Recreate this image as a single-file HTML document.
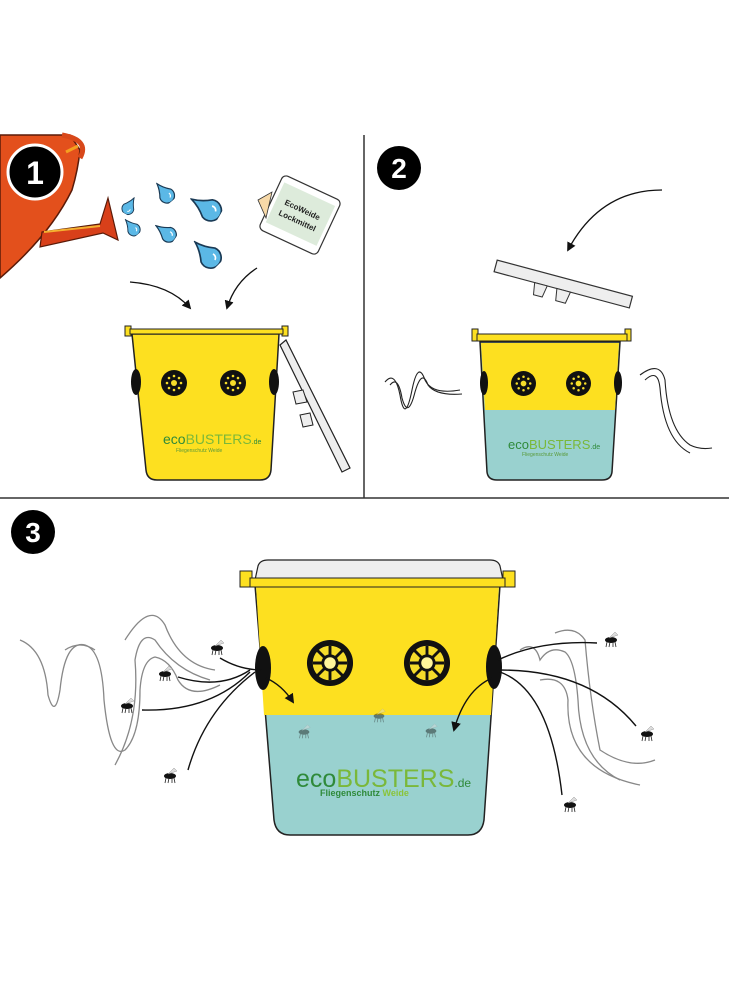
<!DOCTYPE html>
<html><head><meta charset="utf-8"><style>
html,body{margin:0;padding:0;background:#fff}
svg{display:block}
text{font-family:"Liberation Sans",sans-serif}
</style></head><body>
<svg width="729" height="1000" viewBox="0 0 729 1000" xmlns="http://www.w3.org/2000/svg">
<defs>
<symbol id="fly" viewBox="-10 -10 20 20">
<ellipse cx="0" cy="0" rx="6" ry="3" fill="#111"/>
<path d="M-2 -2 L4 -8 L7 -5 Z" fill="#ddd" stroke="#999" stroke-width="0.5"/>
<path d="M-4 2 L-5 7 M-1 2 L-2 7 M2 2 L2 7 M4 2 L5 7" stroke="#222" stroke-width="0.8"/>
</symbol>
<symbol id="drop" viewBox="-10 -14 20 24">
<path d="M0 -13 Q2 -6 7 0 A7.5 7.5 0 1 1 -7 0 Q-2 -6 0 -13 Z" fill="#5bb8e6" stroke="#1a3a55" stroke-width="1.2"/>
<path d="M3 2 A3 3 0 0 1 1 6" fill="none" stroke="#fff" stroke-width="1.2"/>
</symbol>
<symbol id="hole3" viewBox="-25 -25 50 50">
<circle r="24" fill="#111"/>
<circle r="18" fill="#f5dc2a"/>
<g stroke="#111" stroke-width="3">
<line x1="0" y1="-18" x2="0" y2="18"/><line x1="-18" y1="0" x2="18" y2="0"/>
<line x1="-13" y1="-13" x2="13" y2="13"/><line x1="-13" y1="13" x2="13" y2="-13"/>
</g>
<circle r="9" fill="#111"/><circle r="6" fill="#fff59a"/>
</symbol>
<symbol id="hole1" viewBox="-13 -13 26 26">
<circle r="13" fill="#111"/>
<circle r="3" fill="#f5dc2a"/>
<g fill="#f5dc2a"><circle cx="0" cy="-7" r="1.3"/><circle cx="0" cy="7" r="1.3"/><circle cx="-7" cy="0" r="1.3"/><circle cx="7" cy="0" r="1.3"/><circle cx="5" cy="5" r="1.3"/><circle cx="-5" cy="5" r="1.3"/><circle cx="5" cy="-5" r="1.3"/><circle cx="-5" cy="-5" r="1.3"/></g>
</symbol>
<marker id="ah" viewBox="0 0 10 10" refX="8" refY="5" markerWidth="7" markerHeight="7" orient="auto"><path d="M0 0 L10 5 L0 10 Z" fill="#111"/></marker>
</defs>

<!-- dividers -->
<line x1="364" y1="135" x2="364" y2="498" stroke="#333" stroke-width="1.5"/>
<line x1="0" y1="498" x2="729" y2="498" stroke="#333" stroke-width="1.5"/>

<!-- watering can -->
<path d="M0 135 L70 135 L80 150 Q78 170 72 190 Q50 235 0 278 Z" fill="#e3501c" stroke="#5a1a08" stroke-width="1.5"/>
<path d="M62 135 Q90 140 80 158" fill="none" stroke="#d8481a" stroke-width="5"/>
<path d="M66 152 L78 146" stroke="#f5a020" stroke-width="3"/>
<path d="M42 232 L100 224 L108 198 L118 240 L103 233 L40 247 Z" fill="#d8401a" stroke="#5a1a08" stroke-width="1.2"/>
<path d="M44 232 L100 226" stroke="#f5b030" stroke-width="2"/>
<circle cx="35" cy="172" r="27" fill="#000" stroke="#fff" stroke-width="3"/>
<text x="35" y="184" font-size="32" font-weight="bold" fill="#fff" text-anchor="middle">1</text>

<!-- drops -->
<use href="#drop" x="122" y="196" width="16" height="19" transform="rotate(30 130 205)"/>
<use href="#drop" x="154" y="180" width="20" height="24" transform="rotate(-40 164 192)"/>
<use href="#drop" x="190" y="190" width="30" height="34" transform="rotate(-60 205 207)"/>
<use href="#drop" x="123" y="217" width="17" height="20" transform="rotate(-40 131 227)"/>
<use href="#drop" x="155" y="220" width="20" height="24" transform="rotate(-55 165 232)"/>
<use href="#drop" x="192" y="236" width="28" height="34" transform="rotate(-45 206 253)"/>
<!-- packet -->
<g transform="rotate(25 300 215)">
<rect x="268" y="185" width="64" height="60" rx="5" fill="#fff" stroke="#333" stroke-width="1.2"/>
<rect x="272" y="192" width="56" height="44" fill="#cfe3cc" opacity="0.7"/>
<text x="300" y="212" font-size="8" font-weight="bold" text-anchor="middle" fill="#222">EcoWeide</text>
<text x="300" y="224" font-size="8" font-weight="bold" text-anchor="middle" fill="#222">Lockmittel</text>
</g>
<path d="M258 200 L272 192 L266 218 Z" fill="#f7d9a8" stroke="#333" stroke-width="0.8"/>
<!-- arrows 1 -->
<path d="M130 282 Q170 285 190 308" fill="none" stroke="#111" stroke-width="1.3" marker-end="url(#ah)"/>
<path d="M257 268 Q235 282 227 308" fill="none" stroke="#111" stroke-width="1.3" marker-end="url(#ah)"/>

<!-- bucket 1 -->
<path d="M132 334 L279 334 L271 470 Q270 480 260 480 L157 480 Q147 480 146 470 Z" fill="#fde020" stroke="#222" stroke-width="1.5"/>
<rect x="125" y="326" width="6" height="10" fill="#fde020" stroke="#222"/>
<rect x="282" y="326" width="6" height="10" fill="#fde020" stroke="#222"/>
<rect x="130" y="329" width="153" height="5" fill="#fde020" stroke="#222"/>
<ellipse cx="136" cy="382" rx="5" ry="13" fill="#111"/>
<ellipse cx="274" cy="382" rx="5" ry="13" fill="#111"/>
<use href="#hole1" x="161" y="370" width="26" height="26"/>
<use href="#hole1" x="220" y="370" width="26" height="26"/>
<text x="163" y="444" font-size="14" fill="#2f8a3a">eco<tspan fill="#7ab83a">BUSTERS</tspan><tspan font-size="7" fill="#2f8a3a">.de</tspan></text>
<text x="176" y="452" font-size="5" fill="#5a9a3a">Fliegenschutz Weide</text>
<!-- leaning lid -->
<path d="M280 345 L286 340 L350 468 L342 472 Z" fill="#eee" stroke="#222" stroke-width="1.2"/>
<path d="M293 392 L303 390 L307 402 L296 404 Z M300 415 L310 413 L313 425 L303 427 Z" fill="#eee" stroke="#222"/>

<!-- panel 2 -->
<circle cx="399" cy="168" r="22" fill="#000"/>
<text x="399" y="178" font-size="28" font-weight="bold" fill="#fff" text-anchor="middle">2</text>
<path d="M662 190 Q600 190 568 250" fill="none" stroke="#111" stroke-width="1.3" marker-end="url(#ah)"/>
<g transform="rotate(15 563 285)">
<rect x="493" y="278" width="140" height="12" fill="#eee" stroke="#333" stroke-width="1.2"/>
<path d="M535 290 L548 290 L546 302 L537 302 Z M558 290 L572 290 L570 302 L560 302 Z" fill="#eee" stroke="#333"/>
</g>
<path d="M480 342 L620 342 L612 472 Q611 480 602 480 L497 480 Q488 480 487 472 Z" fill="#99d1cf" stroke="#222" stroke-width="1.5"/>
<path d="M481 343 L619 343 L615 410 L485 410 Z" fill="#fde020"/>
<rect x="472" y="329" width="6" height="12" fill="#fde020" stroke="#222"/>
<rect x="625" y="329" width="6" height="12" fill="#fde020" stroke="#222"/>
<rect x="477" y="334" width="150" height="7" fill="#fde020" stroke="#222"/>
<ellipse cx="484" cy="383" rx="4" ry="12" fill="#111"/>
<ellipse cx="618" cy="383" rx="4" ry="12" fill="#111"/>
<use href="#hole1" x="511" y="371" width="25" height="25"/>
<use href="#hole1" x="566" y="371" width="25" height="25"/>
<text x="508" y="449" font-size="13" fill="#2f8a3a">eco<tspan fill="#7ab83a">BUSTERS</tspan><tspan font-size="7">.de</tspan></text>
<text x="522" y="456" font-size="5" fill="#5a9a3a">Fliegenschutz Weide</text>
<g fill="none" stroke="#222" stroke-width="1.1">
<path d="M385 382 Q395 370 400 395 Q405 425 412 390 Q418 360 425 380 Q432 395 460 390"/>
<path d="M390 385 Q398 375 402 398 Q408 420 415 392 Q422 368 428 385 Q436 396 462 394"/>
<path d="M640 375 Q660 360 665 380 Q668 430 690 445 Q700 450 712 448"/>
<path d="M645 380 Q658 368 660 388 Q664 440 690 453"/>
</g>

<!-- panel 3 -->
<circle cx="33" cy="532" r="22" fill="#000"/>
<text x="33" y="542" font-size="28" font-weight="bold" fill="#fff" text-anchor="middle">3</text>
<g fill="none" stroke="#888" stroke-width="1.3">
<path d="M20 640 Q45 650 48 695 Q55 720 60 690 Q65 640 85 645 Q102 650 104 700 Q110 760 125 750 Q140 735 140 690 Q142 660 155 657 Q170 660 178 680 Q190 700 220 685"/>
<path d="M65 650 Q80 640 95 650"/>
<path d="M125 640 Q150 600 165 625 Q180 665 215 670"/>
<path d="M115 765 Q140 720 135 660 Q140 630 155 640 Q175 670 210 680"/>
<path d="M555 633 Q575 625 585 640 Q590 700 600 750 Q630 770 655 760"/>
<path d="M520 650 Q535 640 540 660 Q550 645 565 652 Q575 660 578 700 Q580 760 620 780"/>
<path d="M540 680 Q565 675 568 700 Q565 770 640 785"/>
</g>
<!-- bucket 3 -->
<path d="M255 585 L500 585 L484 820 Q482 835 468 835 L290 835 Q276 835 274 820 Z" fill="#99d1cf" stroke="#222" stroke-width="1.5"/>
<path d="M256 586 L499 586 L491 715 L264 715 Z" fill="#fde020"/>
<path d="M255 580 L258 566 Q260 560 268 560 L490 560 Q498 560 500 566 L503 580 Z" fill="#eee" stroke="#222" stroke-width="1.2"/>
<rect x="240" y="571" width="12" height="16" fill="#fde020" stroke="#222"/>
<rect x="503" y="571" width="12" height="16" fill="#fde020" stroke="#222"/>
<rect x="250" y="578" width="255" height="9" fill="#fde020" stroke="#222"/>
<ellipse cx="263" cy="668" rx="8" ry="22" fill="#111"/>
<ellipse cx="494" cy="667" rx="8" ry="22" fill="#111"/>
<use href="#hole3" x="306" y="639" width="48" height="48"/>
<use href="#hole3" x="403" y="639" width="48" height="48"/>
<text x="296" y="787" font-size="25" fill="#2f8a3a">eco<tspan fill="#7ab83a">BUSTERS</tspan><tspan font-size="12" fill="#2f8a3a">.de</tspan></text>
<text x="320" y="796" font-size="9" font-weight="bold" fill="#2f8a3a">Fliegenschutz <tspan fill="#8ac43a">Weide</tspan></text>
<!-- connectors -->
<g fill="none" stroke="#111" stroke-width="1.4">
<path d="M220 658 Q240 670 262 670"/>
<path d="M178 677 Q220 690 250 670"/>
<path d="M142 710 Q210 712 250 672"/>
<path d="M188 770 Q205 710 255 672"/>
<path d="M266 678 Q282 685 293 702" marker-end="url(#ah)"/>
<path d="M498 660 Q540 640 597 643"/>
<path d="M500 670 Q590 670 636 726"/>
<path d="M500 672 Q550 690 562 795"/>
<path d="M492 678 Q465 690 454 730" marker-end="url(#ah)"/>
</g>
<g>
<use href="#fly" x="207" y="638" width="20" height="20"/>
<use href="#fly" x="155" y="664" width="20" height="20"/>
<use href="#fly" x="117" y="696" width="20" height="20"/>
<use href="#fly" x="160" y="766" width="20" height="20"/>
<use href="#fly" x="601" y="630" width="20" height="20"/>
<use href="#fly" x="637" y="724" width="20" height="20"/>
<use href="#fly" x="560" y="795" width="20" height="20"/>
<g opacity="0.45">
<use href="#fly" x="295" y="723" width="18" height="18"/>
<use href="#fly" x="370" y="707" width="18" height="18"/>
<use href="#fly" x="422" y="722" width="18" height="18"/>
</g>
</g>
</svg>
</body></html>
